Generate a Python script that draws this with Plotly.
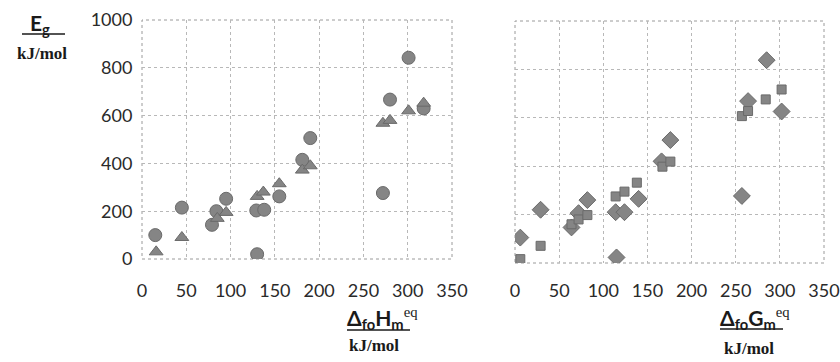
import plotly.graph_objects as go

# Left panel: E_g vs Δfo H_m^eq
h_circle_x = [15, 45, 84, 79, 95, 129, 138, 130, 155, 181, 190, 272, 280, 301, 318]
h_circle_y = [100, 215, 200, 143, 252, 203, 206, 20, 262, 415, 506, 276, 667, 842, 630]
h_tri_x = [16, 45, 85, 95, 130, 137, 155, 181, 190, 272, 280, 301, 318]
h_tri_y = [30, 90, 170, 195, 262, 280, 315, 372, 390, 568, 580, 620, 652]

# Right panel: E_g vs Δfo G_m^eq
g_dia_x = [6, 29, 64, 72, 82, 114, 124, 115, 140, 166, 176, 257, 264, 285, 302]
g_dia_y = [105, 220, 147, 206, 260, 210, 210, 23, 265, 420, 508, 277, 669, 838, 626]
g_sq_x = [6, 29, 64, 72, 82, 114, 124, 138, 167, 176, 257, 264, 284, 302]
g_sq_y = [16, 71, 160, 180, 198, 275, 295, 332, 398, 419, 607, 628, 676, 717]

x_ticks = [0, 50, 100, 150, 200, 250, 300, 350]
y_ticks = [0, 200, 400, 600, 800, 1000]

W, H = 840, 362
FILL = "#858585"
EDGE = "#6a6a6a"
GRID = "#b8b8b8"
TICKFONT = dict(family="Lato", size=18, color="#2a2a2a")

fig = go.Figure()

def mk(symbol, size):
    return dict(symbol=symbol, size=size, color=FILL, line=dict(color=EDGE, width=1))

fig.add_trace(go.Scatter(x=h_circle_x, y=h_circle_y, mode="markers",
                         marker=mk("circle", 13), xaxis="x", yaxis="y"))
fig.add_trace(go.Scatter(x=h_tri_x, y=h_tri_y, mode="markers",
                         marker=mk("triangle-up", 12), xaxis="x", yaxis="y"))
fig.add_trace(go.Scatter(x=g_dia_x, y=g_dia_y, mode="markers",
                         marker=mk("diamond", 13), xaxis="x2", yaxis="y2"))
fig.add_trace(go.Scatter(x=g_sq_x, y=g_sq_y, mode="markers",
                         marker=mk("square", 9), xaxis="x2", yaxis="y2"))

def px_x(a, b):
    return [a / W, b / W]

def px_y(top, bottom):
    return [(H - bottom) / H, (H - top) / H]

xcommon = dict(range=[0, 350], tickvals=x_ticks, showgrid=True, gridcolor=GRID,
               griddash="dot", gridwidth=1, zeroline=False, showline=False,
               ticks="outside", tickcolor="rgba(0,0,0,0)",
               tickfont=TICKFONT, automargin=False, fixedrange=True)
ycommon = dict(range=[0, 1000], tickvals=y_ticks, showgrid=True, gridcolor=GRID,
               griddash="dot", gridwidth=1, zeroline=False, showline=False,
               ticks="outside", ticklen=5, tickcolor="rgba(0,0,0,0)",
               tickfont=TICKFONT, automargin=False, fixedrange=True)

fig.update_layout(
    width=W, height=H,
    margin=dict(l=0, r=0, t=0, b=0),
    paper_bgcolor="white", plot_bgcolor="white",
    showlegend=False,
    xaxis=dict(xcommon, domain=px_x(142, 452), anchor="y", ticklen=15),
    yaxis=dict(ycommon, domain=px_y(20, 259), anchor="x"),
    xaxis2=dict(xcommon, domain=px_x(515, 824), anchor="y2", ticklen=11),
    yaxis2=dict(ycommon, domain=px_y(21, 263), anchor="x2", showticklabels=False),
)

# dotted plot frames
for xr, yr in (("x domain", "y domain"), ("x2 domain", "y2 domain")):
    fig.add_shape(type="rect", xref=xr, yref=yr, x0=0, x1=1, y0=0, y1=1,
                  line=dict(color="#9a9a9a", width=1, dash="dot"), layer="below")

def py(v):
    return (H - v) / H

SANS_B = dict(family="Lato", size=21, color="#1a1a1a")
SERIF_B = dict(family="Liberation Serif", size=17, color="#1a1a1a")

# Y axis title (top-left)
fig.add_annotation(x=28 / W, y=py(24), xref="paper", yref="paper",
                   text="<b>E<sub>g</sub></b>", showarrow=False,
                   xanchor="left", yanchor="middle", font=SANS_B)
fig.add_annotation(x=15 / W, y=py(53), xref="paper", yref="paper",
                   text="<b>kJ/mol</b>", showarrow=False,
                   xanchor="left", yanchor="middle", font=SERIF_B)
fig.add_shape(type="line", xref="paper", yref="paper",
              x0=22 / W, x1=65 / W, y0=py(34), y1=py(34),
              line=dict(color="#1a1a1a", width=1.5))

# X axis titles
eq = "<sup><span style='font-family:Liberation Serif;font-weight:normal'>eq</span></sup>"
fig.add_annotation(x=345 / W, y=py(318), xref="paper", yref="paper",
                   text="<b>Δ<sub>fo</sub>H<sub>m</sub></b>" + eq, showarrow=False,
                   xanchor="left", yanchor="middle", font=SANS_B)
fig.add_shape(type="line", xref="paper", yref="paper",
              x0=347 / W, x1=410 / W, y0=py(330), y1=py(330),
              line=dict(color="#1a1a1a", width=1.5))
fig.add_annotation(x=347 / W, y=py(345), xref="paper", yref="paper",
                   text="<b>kJ/mol</b>", showarrow=False,
                   xanchor="left", yanchor="middle", font=SERIF_B)

fig.add_annotation(x=718 / W, y=py(318), xref="paper", yref="paper",
                   text="<b>Δ<sub>fo</sub>G<sub>m</sub></b>" + eq, showarrow=False,
                   xanchor="left", yanchor="middle", font=SANS_B)
fig.add_shape(type="line", xref="paper", yref="paper",
              x0=720 / W, x1=783 / W, y0=py(329), y1=py(329),
              line=dict(color="#1a1a1a", width=1.5))
fig.add_annotation(x=722 / W, y=py(348), xref="paper", yref="paper",
                   text="<b>kJ/mol</b>", showarrow=False,
                   xanchor="left", yanchor="middle", font=SERIF_B)

fig.write_html("out.html")
